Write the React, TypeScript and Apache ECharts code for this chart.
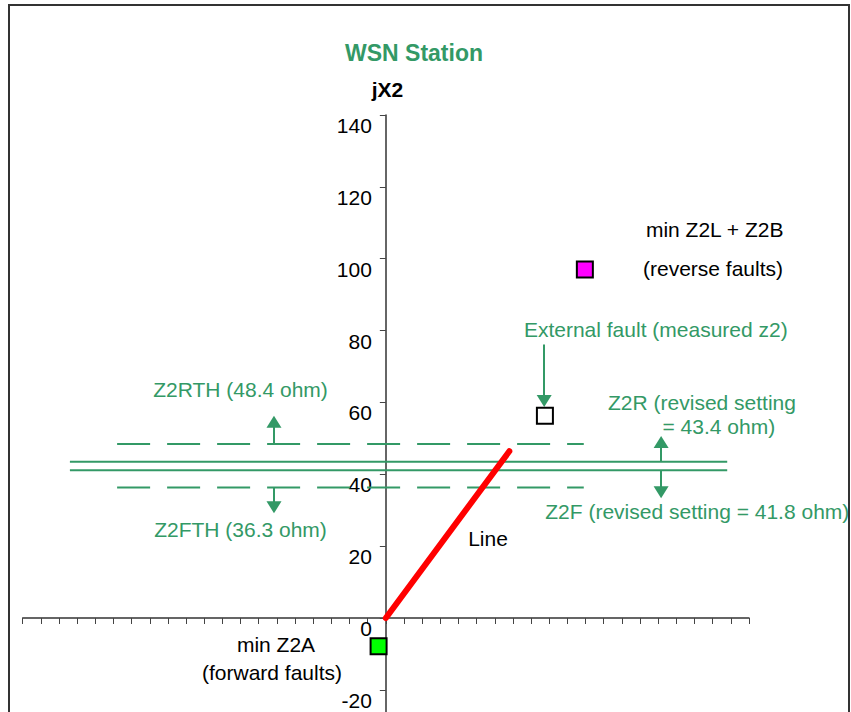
import React, { useEffect, useRef } from "react";
import * as echarts from "echarts";

// ---- data ----
const X_MIN = -100;
const X_MAX = 100;
const X_STEP = 5;
const Y_MIN = -40;
const Y_MAX = 140;
const Y_STEP = 20;

const lineImpedance = [
  [0, 0],
  [34, 46.4],
];
const z2rSetting = 43.5; // Z2R revised (drawn)
const z2fSetting = 41.1; // Z2F revised (drawn)
const z2rthValue = 48.4;
const z2fthValue = 36.3;
const solidExtent = [-87, 94];
const dashedExtent = [-74, 54.5];

const minZ2A = [-2, -7.9];
const externalFault = [43.8, 56.3];
const minZ2LB = [54.8, 97];

// arrows: [x, yFrom, yTo]
const arrows = [
  [-30.8, z2rthValue, 54.6],
  [-30.8, z2fthValue, 30.8],
  [75.8, z2rSetting, 49.0],
  [75.8, z2fSetting, 35.0],
  [43.6, 76.1, 60.4],
];

const GREEN = "#339966";
const FONT = "Liberation Sans, Arial, Helvetica, sans-serif";

const GRID_LEFT = 22.7;
const GRID_RIGHT = 102;
const CHART_W = 851;

export default function App() {
  const ref = useRef<HTMLDivElement>(null);
  useEffect(() => {
    if (!ref.current) return;
    const chart = echarts.init(ref.current, null, { renderer: "svg" });

    const gridWidth = CHART_W - GRID_LEFT - GRID_RIGHT;
    const yAxisOffset = -((0 - X_MIN) / (X_MAX - X_MIN)) * gridWidth;

    const hLine = (y: number, ext: number[], dashed: boolean) => ({
      type: "line",
      data: [
        [ext[0], y],
        [ext[1], y],
      ],
      symbol: "none",
      silent: true,
      lineStyle: {
        color: GREEN,
        width: 2,
        type: dashed ? [33, 17] : "solid",
      },
      z: 2,
    });

    const square = (p: number[], fill: string) => ({
      type: "scatter",
      data: [p],
      symbol: "rect",
      symbolSize: 16,
      itemStyle: { color: fill, borderColor: "#000", borderWidth: 2, opacity: 1 },
      z: 5,
    });

    const txt = (text: string, x: number, y: number, color: string, size = 21, bold = false) => ({
      type: "text",
      x,
      y,
      style: {
        text,
        fill: color,
        font: `${bold ? "bold " : ""}${size}px ${FONT}`,
        textAlign: "center",
        textVerticalAlign: "middle",
      },
      z: 10,
    });

    chart.setOption({
      animation: false,
      backgroundColor: "#fff",
      grid: {
        left: GRID_LEFT,
        right: GRID_RIGHT,
        top: 115,
        bottom: -49.7,
        containLabel: false,
        outerBoundsMode: "none",
      },
      xAxis: {
        type: "value",
        min: X_MIN,
        max: X_MAX,
        interval: X_STEP,
        axisLine: { onZero: true, lineStyle: { color: "#333", width: 1.5 } },
        axisTick: { show: true, length: 6, lineStyle: { color: "#444", width: 1 } },
        axisLabel: { show: false },
        splitLine: { show: false },
      },
      yAxis: {
        type: "value",
        position: "left",
        offset: yAxisOffset,
        min: Y_MIN,
        max: Y_MAX,
        interval: Y_STEP,
        axisLine: { onZero: false, lineStyle: { color: "#333", width: 1.5 } },
        axisTick: { show: true, length: 6, lineStyle: { color: "#444", width: 1 } },
        axisLabel: {
          color: "#000",
          fontSize: 21,
          fontFamily: FONT,
          margin: 14,
          verticalAlign: "top",
          formatter: (v: number) => (v <= Y_MIN ? "" : String(v)),
        },
        splitLine: { show: false },
      },
      series: [
        hLine(z2rthValue, dashedExtent, true),
        hLine(z2fthValue, dashedExtent, true),
        hLine(z2rSetting, solidExtent, false),
        hLine(z2fSetting, solidExtent, false),
        {
          type: "line",
          data: lineImpedance,
          symbol: "none",
          lineStyle: { color: "#ff0000", width: 6, cap: "round" },
          z: 4,
        },
        {
          type: "line",
          data: [],
          markLine: {
            silent: true,
            symbol: ["none", "triangle"],
            symbolSize: [15, 12],
            label: { show: false },
            lineStyle: { color: GREEN, width: 2, type: "solid" },
            itemStyle: { color: GREEN },
            data: arrows.map((a) => [{ coord: [a[0], a[1]] }, { coord: [a[0], a[2]] }]),
          },
        },
        square(minZ2A, "#00ff00"),
        square(externalFault, "#ffffff"),
        square(minZ2LB, "#ff00ff"),
      ],
      graphic: [
        {
          type: "rect",
          shape: { x: 9, y: 5, width: 840, height: 730 },
          style: { fill: "none", stroke: "#333", lineWidth: 2 },
          z: 20,
        },
        txt("WSN Station", 414, 53, GREEN, 23, true),
        txt("jX2", 387.5, 89, "#000", 21, true),
        txt("Z2RTH (48.4 ohm)", 240.5, 389, GREEN),
        txt("Z2FTH (36.3 ohm)", 240.5, 529.5, GREEN),
        txt("Z2R (revised setting", 702, 402, GREEN),
        txt("= 43.4 ohm)", 718.8, 426, GREEN),
        txt("Z2F (revised setting = 41.8 ohm)", 697.3, 511, GREEN),
        txt("External fault (measured z2)", 655.8, 329, GREEN),
        txt("min Z2L + Z2B", 714.7, 229, "#000"),
        txt("(reverse faults)", 713, 268, "#000"),
        txt("Line", 488, 538, "#000"),
        txt("min Z2A", 276, 644, "#000"),
        txt("(forward faults)", 272, 672, "#000"),
      ],
    });
    return () => chart.dispose();
  }, []);
  return (
    <div
      ref={ref}
      style={{ position: "absolute", left: 0, top: 0, width: 851, height: 712, overflow: "hidden" }}
    />
  );
}
